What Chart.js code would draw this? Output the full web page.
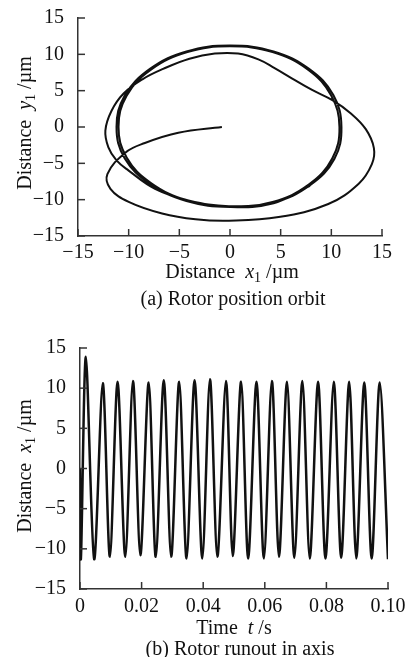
<!DOCTYPE html>
<html>
<head>
<meta charset="utf-8">
<script src="https://cdn.jsdelivr.net/npm/chart.js@4/dist/chart.umd.min.js"></script>
<style>
  body { margin: 0; width: 406px; height: 657px; overflow: hidden; position: relative; background: #fff; }
  .box { position: absolute; }
  .txt { position: absolute; font-family: "Liberation Serif", "DejaVu Serif", serif; font-size: 20px; color: #111; white-space: nowrap; transform: translate(-50%, -50%); line-height: 1; }
  .rot { transform: translate(-50%, -50%) rotate(-90deg); }
  sub { font-size: 14px; vertical-align: -4px; }
</style>
</head>
<body>
<div class="box" style="left:0;top:0;width:406px;height:270px"><canvas id="orbit" width="406" height="270"></canvas></div>
<div class="box" style="left:0;top:330px;width:430px;height:290px"><canvas id="runout" width="430" height="290"></canvas></div>

<div class="txt rot" style="left:26px;top:123px">Distance&nbsp; <i>y</i><sub>1</sub> /µm</div>
<div class="txt" style="left:232px;top:273px">Distance&nbsp; <i>x</i><sub>1</sub> /µm</div>
<div class="txt" style="left:233px;top:298px">(a) Rotor position orbit</div>

<div class="txt rot" style="left:26px;top:466px">Distance&nbsp; <i>x</i><sub>1</sub> /µm</div>
<div class="txt" style="left:234px;top:627px">Time&nbsp; <i>t</i> /s</div>
<div class="txt" style="left:240px;top:648px">(b) Rotor runout in axis</div>

<script>
// (a) orbit, in drawing order:
// start spiral, outer loop, then the inner circle twice
let orbitX = [-0.8, -5.1, -8.4, -10.3, -12.1, -11.8, -10.0, -6.7, -3.4, -0.1, 4.8, 9.7, 12.7, 14.0, 14.2, 13.4, 11.9, 10.1, 8.1, 6.1, 4.4, 2.8, 0.8, -1.5, -4.0, -6.6, -8.6, -10.5, -11.7, -12.3, -12.0, -11.2, -10.0, -7.4, -4.1,
    -0.1, 4.2, 7.8, 10.1, 10.8, 10.0, 7.7, 4.2, 0, -4.2, -7.8, -10.2, -11.0, -10.2, -7.8, -4.2,
    0, 4.3, 7.9, 10.3, 11.0, 10.2, 7.8, 4.3, 0, -4.3, -7.9, -10.4, -11.2, -10.4, -7.9, -4.3, 0, 4.3, 7.9];
let orbitY = [0, -0.8, -2.2, -3.5, -6.5, -8.5, -10.3, -11.9, -12.7, -12.9, -12.4, -10.6, -7.8, -5.1, -2.9, -0.3, 1.9, 3.7, 5.1, 6.7, 8.1, 9.3, 10.1, 10.1, 9.4, 8.0, 6.6, 4.6, 2.2, -0.5, -2.8, -4.6, -6.0, -8.5, -10.1,
    -10.9, -10.3, -7.9, -4.3, 0, 4.3, 7.9, 10.3, 11.1, 10.3, 7.9, 4.3, 0, -4.2, -7.7, -10.1,
    -11.0, -10.4, -8.0, -4.4, 0, 4.4, 8.0, 10.4, 11.2, 10.4, 8.0, 4.3, 0, -4.3, -7.8, -10.2, -11.0, -10.5, -8.1];

// (b) runout x1 against time, peaks and troughs
let timeS = [0, 0.0003, 0.0019, 0.0046, 0.0074, 0.0097, 0.0122, 0.0147, 0.0172, 0.0196, 0.0223, 0.0246, 0.0272, 0.0296, 0.0322, 0.0346, 0.0372, 0.0397, 0.0422, 0.0446, 0.0474, 0.0496, 0.0523, 0.0546, 0.0573, 0.0597, 0.0623, 0.0646, 0.0672, 0.0696, 0.0722, 0.0746, 0.0773, 0.0797, 0.0824, 0.0848, 0.0874, 0.0897, 0.0923, 0.0947, 0.0973, 0.1];
let runoutX = [0, -11.2, 13.9, -11.3, 10.6, -11.0, 10.8, -11.0, 10.9, -10.8, 10.7, -11.0, 11.0, -11.0, 10.8, -11.2, 11.0, -11.2, 11.1, -11.0, 10.9, -10.9, 10.8, -11.2, 10.8, -11.2, 10.9, -11.0, 10.8, -11.1, 10.9, -11.2, 10.8, -11.2, 10.8, -11.1, 10.8, -11.2, 10.7, -11.2, 10.7, -11.3];

let distTicks = [-15, -10, -5, 0, 5, 10, 15];
let timeTicks = [0, 0.02, 0.04, 0.06, 0.08, 0.10];

let serif = { family: '"Liberation Serif", serif', size: 20 };

// small tick marks pointing into the plot
let innerTicks = {
    id: 'innerTicks',
    afterDraw: function (chart) {
        let ctx = chart.ctx;
        let area = chart.chartArea;
        ctx.save();
        ctx.strokeStyle = '#333';
        ctx.lineWidth = 1.5;
        chart.scales.x.ticks.forEach(function (t) {
            let px = chart.scales.x.getPixelForValue(t.value);
            ctx.beginPath();
            ctx.moveTo(px, area.bottom);
            ctx.lineTo(px, area.bottom - 7);
            ctx.stroke();
        });
        chart.scales.y.ticks.forEach(function (t) {
            let py = chart.scales.y.getPixelForValue(t.value);
            ctx.beginPath();
            ctx.moveTo(area.left, py);
            ctx.lineTo(area.left + 7, py);
            ctx.stroke();
        });
        ctx.restore();
    }
};

function minus(v) {
    return String(v).replace('-', '\u2212');
}

var ctx = document.getElementById('orbit').getContext('2d');
var orbitChart = new Chart(ctx, {
    type: 'scatter',
    data: {
        datasets: [{
            data: orbitX.map(function (x, i) { return { x: x, y: orbitY[i] }; }),
            showLine: true,
            borderColor: '#111',
            borderWidth: 2,
            pointRadius: 0,
            tension: 0.4,
            fill: false
        }]
    },
    options: {
        responsive: false,
        animation: false,
        devicePixelRatio: 1,
        layout: { padding: { top: 15, right: 24, left: 0, bottom: 0 } },
        plugins: { legend: { display: false }, tooltip: { enabled: false } },
        scales: {
            x: {
                type: 'linear', min: -15, max: 15,
                afterBuildTicks: function (s) { s.ticks = distTicks.map(function (v) { return { value: v }; }); },
                ticks: { color: '#111', font: serif, padding: -3, maxRotation: 0, callback: minus },
                grid: { display: false },
                border: { display: true, color: '#333', width: 1.5 },
                afterFit: function (s) { s.height = 34; }
            },
            y: {
                type: 'linear', min: -15, max: 15,
                afterBuildTicks: function (s) { s.ticks = distTicks.map(function (v) { return { value: v }; }); },
                ticks: { color: '#111', font: serif, padding: 6, callback: minus },
                grid: { display: false },
                border: { display: true, color: '#333', width: 1.5 },
                afterFit: function (s) { s.width = 78; }
            }
        }
    },
    plugins: [innerTicks]
});

var ctx2 = document.getElementById('runout').getContext('2d');
var runoutChart = new Chart(ctx2, {
    type: 'line',
    data: {
        datasets: [{
            data: timeS.map(function (t, i) { return { x: t, y: runoutX[i] }; }),
            borderColor: '#111',
            borderWidth: 2.5,
            pointRadius: 0,
            tension: 0.3,
            fill: false
        }]
    },
    options: {
        responsive: false,
        animation: false,
        devicePixelRatio: 1,
        layout: { padding: { top: 15, right: 42, left: 0, bottom: 0 } },
        plugins: { legend: { display: false }, tooltip: { enabled: false } },
        scales: {
            x: {
                type: 'linear', min: 0, max: 0.1,
                afterBuildTicks: function (s) { s.ticks = timeTicks.map(function (v) { return { value: v }; }); },
                ticks: {
                    color: '#111', font: serif, padding: -2, maxRotation: 0,
                    callback: function (v) { return v === 0 ? '0' : v.toFixed(2); }
                },
                grid: { display: false },
                border: { display: true, color: '#333', width: 1.5 },
                afterFit: function (s) { s.height = 31; }
            },
            y: {
                type: 'linear', min: -15, max: 15,
                afterBuildTicks: function (s) { s.ticks = distTicks.map(function (v) { return { value: v }; }); },
                ticks: { color: '#111', font: serif, padding: 6, callback: minus },
                grid: { display: false },
                border: { display: true, color: '#333', width: 1.5 },
                afterFit: function (s) { s.width = 80; }
            }
        }
    },
    plugins: [innerTicks]
});
</script>
</body>
</html>
